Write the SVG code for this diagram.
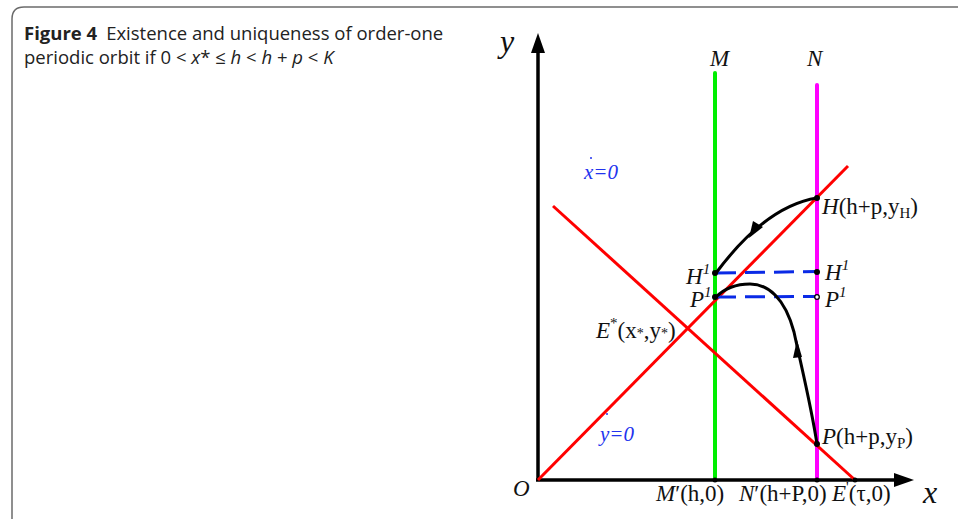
<svg xmlns="http://www.w3.org/2000/svg" width="958" height="519" viewBox="0 0 958 519">
<defs>
<style>
.cap{font-family:"Open Sans","Noto Sans",sans-serif;font-size:18.5px;fill:#222}
.lbl{font-family:"Liberation Serif","Times New Roman",serif;font-size:23px;fill:#111}
.it{font-style:italic}
.big{font-size:32px}
.blue{fill:#2233ee;font-style:italic;font-size:21px}
.red{stroke:#ff0000;stroke-width:3;fill:none}
.traj{stroke:#000;stroke-width:3;fill:none}
.dash{stroke:#0a2ae6;stroke-width:3;stroke-dasharray:20,9;fill:none}
.dot{fill:#000}
</style>
</defs>
<rect width="958" height="519" fill="#fff"/>
<path d="M12,519 V19 Q12,7 24,7 H958" fill="none" stroke="#6b6b6b" stroke-width="1.5"/>
<g id="caption">
<text class="cap" x="24" y="40"><tspan font-weight="bold">Figure 4</tspan><tspan dx="9">Existence and uniqueness of order-one</tspan></text>
<text class="cap" x="24" y="64">periodic orbit if 0 &lt; <tspan font-style="italic">x</tspan>* ≤ <tspan font-style="italic">h</tspan> &lt; <tspan font-style="italic">h</tspan> + <tspan font-style="italic">p</tspan> &lt; <tspan font-style="italic">K</tspan></text>
</g>
<g id="axes">
<line x1="538" y1="481" x2="538" y2="50" stroke="#000" stroke-width="3.5"/>
<polygon points="538,33 531,53 545,53" fill="#000"/>
<line x1="536" y1="480" x2="897" y2="480" stroke="#000" stroke-width="3.5"/>
<polygon points="914,480 894,473 894,487" fill="#000"/>
<text class="lbl it big" x="500" y="52">y</text>
<text class="lbl it big" x="923" y="503">x</text>
<text class="lbl it" x="513" y="496">O</text>
</g>
<g id="line-M">
<line x1="715" y1="73" x2="715" y2="480" stroke="#00ee00" stroke-width="4" stroke-linecap="round"/>
<text class="lbl it" x="710" y="66">M</text>
</g>
<g id="line-N">
<line x1="817" y1="85" x2="817" y2="480" stroke="#ff00ff" stroke-width="4" stroke-linecap="round"/>
<text class="lbl it" x="807" y="66">N</text>
</g>
<g id="isoclines">
<line class="red" x1="538" y1="480" x2="848" y2="166"/>
<line class="red" x1="553" y1="206" x2="855" y2="480"/>
<text class="lbl blue" x="584" y="179">x=0</text>
<circle cx="591" cy="158" r="1" fill="#2233ee"/>
<text class="lbl blue" x="600" y="441">y=0</text>
<circle cx="607" cy="414" r="1" fill="#2233ee"/>
</g>
<g id="connectors">
<line class="dash" x1="716" y1="273" x2="816" y2="271.5"/>
<line class="dash" x1="716" y1="297" x2="816" y2="296.5"/>
<path class="traj" d="M817,198 Q766,206 716,273"/>
<polygon points="749,238 753,221 763,227" fill="#000"/>
<path class="traj" d="M817,444 C811,405 801,365 794,332 C785,298 768,284 750,284 C735,284 723,290 716,297"/>
<polygon points="797,340 793,358 802,357" fill="#000"/>
</g>
<g id="point-H">
<circle class="dot" cx="817" cy="198" r="3"/>
<text class="lbl" x="822" y="214"><tspan font-style="italic">H</tspan>(h+p,y<tspan font-size="15" dy="4">H</tspan><tspan dy="-4">)</tspan></text>
</g>
<g id="point-H1">
<circle class="dot" cx="715" cy="273" r="3"/>
<circle class="dot" cx="817" cy="272" r="3"/>
<text class="lbl it" x="686" y="284">H<tspan font-size="15" dy="-10">1</tspan></text>
<text class="lbl it" x="825" y="280">H<tspan font-size="15" dy="-10">1</tspan></text>
</g>
<g id="point-P1">
<circle class="dot" cx="715" cy="297" r="3"/>
<circle cx="817" cy="297" r="2.3" fill="#fff" stroke="#000" stroke-width="1.3"/>
<text class="lbl it" x="690" y="307">P<tspan font-size="15" dy="-10">1</tspan></text>
<text class="lbl it" x="825" y="307">P<tspan font-size="15" dy="-10">1</tspan></text>
</g>
<g id="point-E">
<text class="lbl" x="596" y="338"><tspan font-style="italic">E</tspan><tspan font-size="15" dy="-10">*</tspan><tspan dy="10">(x</tspan><tspan font-size="14">*</tspan>,y<tspan font-size="14">*</tspan>)</text>
</g>
<g id="point-P">
<circle class="dot" cx="817" cy="444" r="3"/>
<text class="lbl" x="822" y="444"><tspan font-style="italic">P</tspan>(h+p,y<tspan font-size="15" dy="4">P</tspan><tspan dy="-4">)</tspan></text>
</g>
<g id="axis-points">
<circle class="dot" cx="715" cy="480" r="2.5"/>
<circle class="dot" cx="817" cy="480" r="2.5"/>
<circle class="dot" cx="855" cy="480" r="2.5"/>
<text class="lbl" x="656" y="501"><tspan font-style="italic">M</tspan>′(h,0)</text>
<text class="lbl" x="739" y="501"><tspan font-style="italic">N</tspan>′(h+P,0)</text>
<text class="lbl" x="832" y="501"><tspan font-style="italic">E</tspan><tspan font-size="15" dy="-9">'</tspan><tspan dy="9">(τ,0)</tspan></text>
</g>
</svg>
